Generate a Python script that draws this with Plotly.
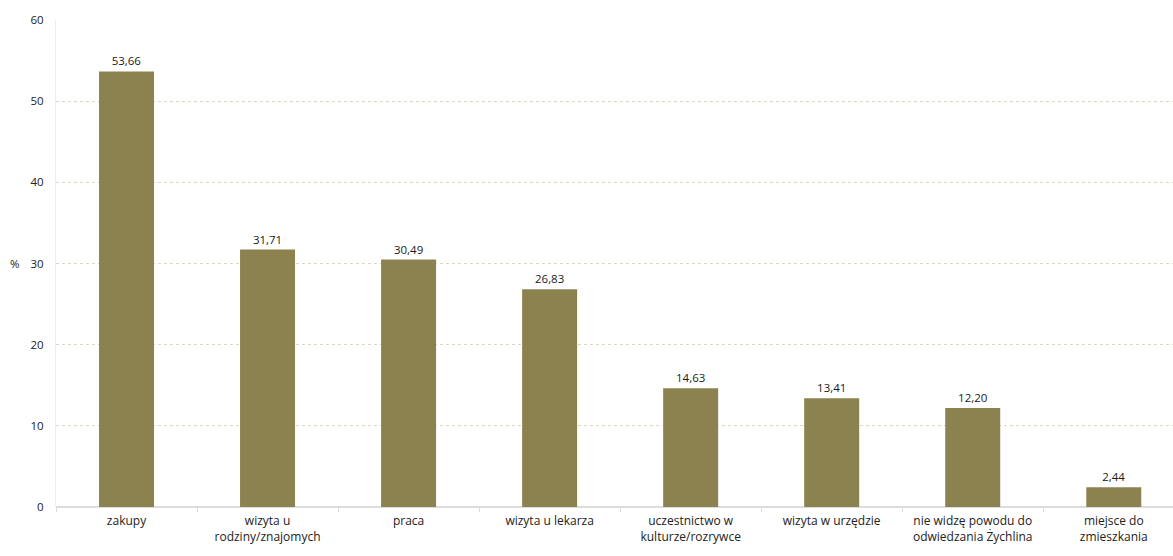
import plotly.graph_objects as go

categories = ["zakupy", "wizyta u<br>rodziny/znajomych", "praca", "wizyta u lekarza",
              "uczestnictwo w<br>kulturze/rozrywce", "wizyta w urzędzie",
              "nie widzę powodu do<br>odwiedzania Żychlina", "miejsce do<br>zmieszkania"]
values = [53.66, 31.71, 30.49, 26.83, 14.63, 13.41, 12.20, 2.44]
labels = [f"{v:.2f}".replace(".", ",") for v in values]
yticks = [0, 10, 20, 30, 40, 50, 60]

fig = go.Figure(go.Bar(
    x=categories, y=values, text=labels, textposition="outside",
    textfont=dict(size=11.5, color="#1a1a1a", family="Open Sans"),
    marker=dict(color="#8c8250", line=dict(width=0)), width=0.39, cliponaxis=False,
))
fig.update_layout(
    width=1173, height=556, margin=dict(l=56, r=0, t=20, b=49),
    plot_bgcolor="white", paper_bgcolor="white", showlegend=False,
    font=dict(family="Open Sans", size=11, color="#222222"),
    xaxis=dict(type="category", range=[-0.5, 7.42], showgrid=False, showline=False,
               zeroline=False, tickson="boundaries", ticks="outside", ticklen=4,
               tickcolor="#dddddd", ticklabelstandoff=5,
               tickfont=dict(size=12, color="#222222")),
    yaxis=dict(range=[0, 60], tickvals=yticks, showgrid=True, gridcolor="#d9d9c8",
               griddash="dot", zeroline=True, zerolinecolor="#dddddd",
               showline=True, linecolor="#eeeeee", ticks="",
               tickfont=dict(size=11.5, color="#222222"), ticklabelstandoff=9),
    annotations=[dict(text="%", x=-0.037, xref="paper", y=30, yref="y", showarrow=False,
                      xanchor="center", font=dict(size=11.5, color="#222222"))],
)
fig.write_html("out.html")
